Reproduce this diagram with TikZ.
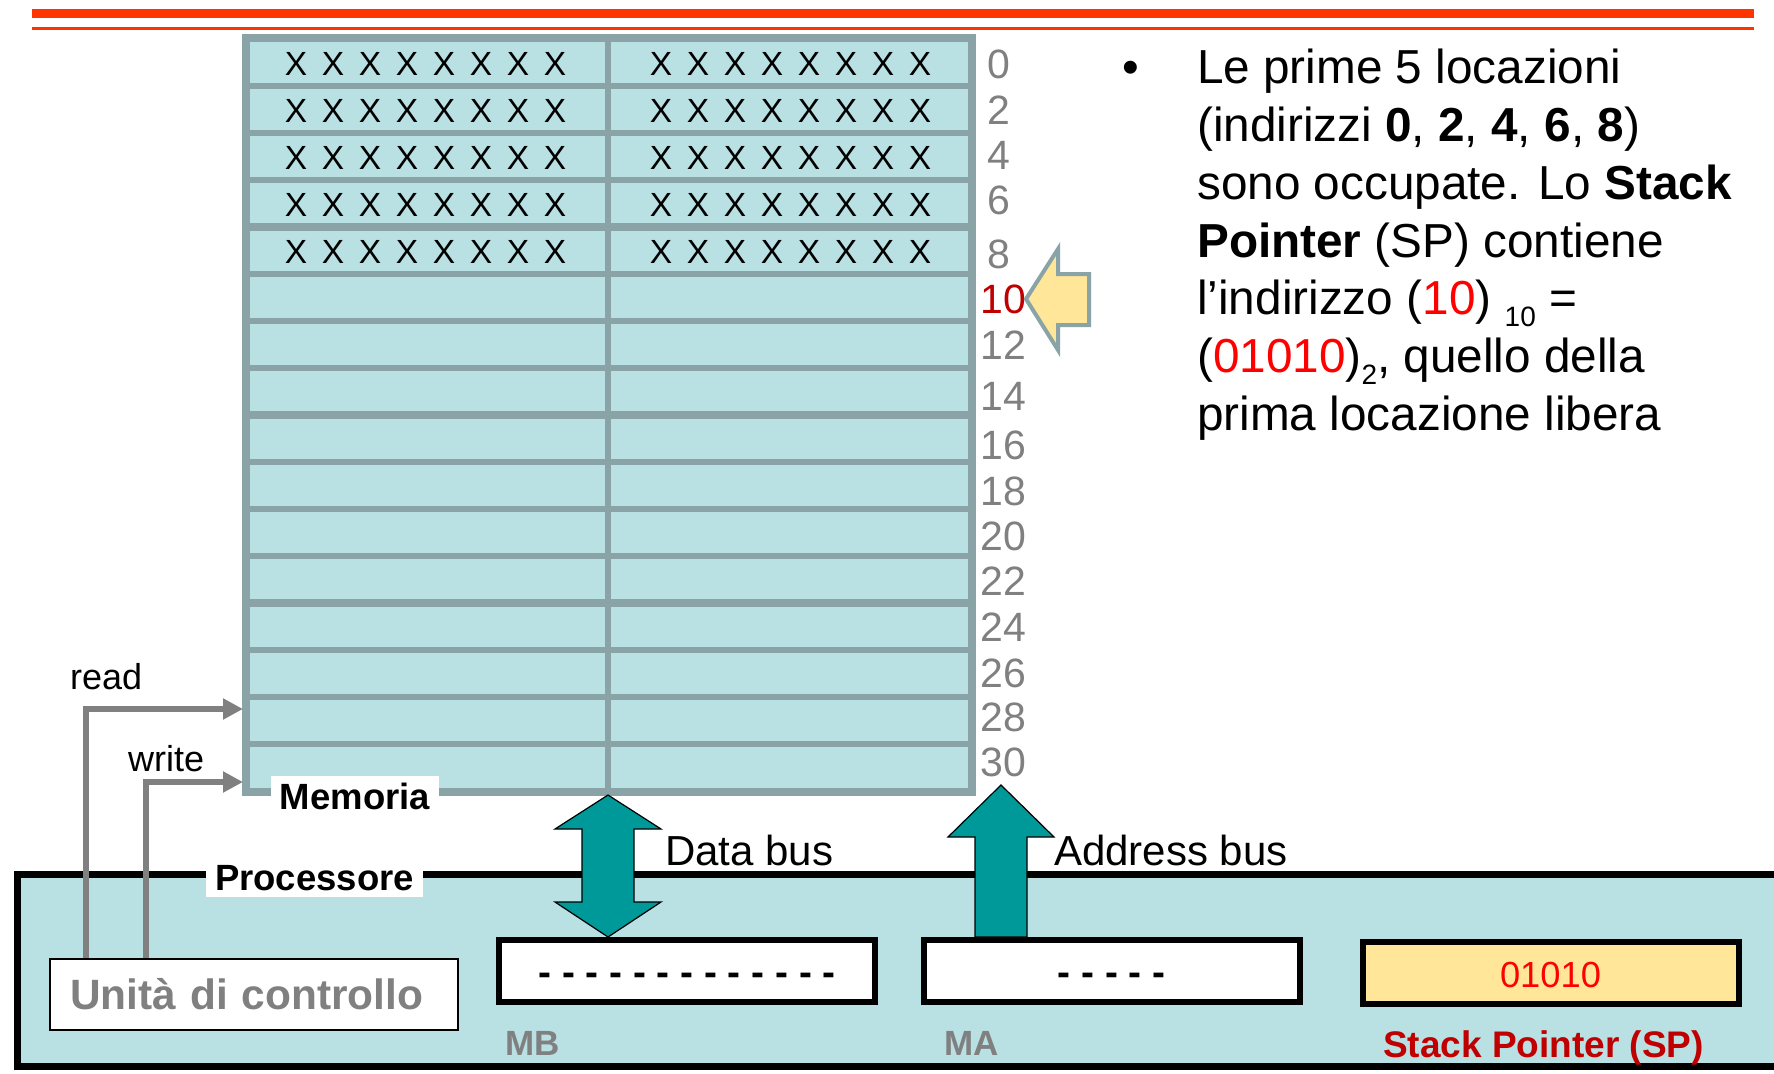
\documentclass[tikz,border=0pt]{standalone}
\usepackage{fontspec}
\setmainfont{Liberation Sans}
\usetikzlibrary{arrows.meta,calc}

\definecolor{cellblue}{RGB}{185,224,227}
\definecolor{cellgray}{RGB}{137,163,166}
\definecolor{busteal}{RGB}{0,153,153}
\definecolor{spyellow}{RGB}{255,230,153}
\definecolor{darkred}{RGB}{192,0,0}
\definecolor{labelgray}{RGB}{128,128,128}
\definecolor{rulered}{RGB}{255,51,0}

\newcommand{\fsz}[2]{\fontsize{#1}{#2}\selectfont}
\newcommand{\onex}{\makebox[37pt]{X}}
\newcommand{\xrow}{\onex\onex\onex\onex\onex\onex\onex\onex}
% shift content down while keeping the box dimensions used for centring
\newcommand{\lowered}[2]{\raisebox{-#1}[\height][\depth]{#2}}

\begin{document}
\begin{tikzpicture}[x=1pt,y=-1pt,
  cell/.style={draw=cellgray, fill=cellblue, line width=6pt},
  block/.style={draw=cellgray, line width=8pt},
  xs/.style={font=\fsz{33.5}{40}, inner sep=0pt},
  addr/.style={font=\fsz{41}{48}, text=labelgray, anchor=west, inner sep=0pt},
  ctrl/.style={draw=labelgray, line width=6pt, -{Triangle[length=20pt,width=20pt]}},
  tag/.style={fill=white, font=\bfseries\fsz{36.5}{44}, inner sep=0pt},
  reg/.style={draw=black, line width=6pt, fill=white, minimum width=376pt, minimum height=62pt, inner sep=0pt},
  regname/.style={font=\bfseries\fsz{35}{42}, text=labelgray, anchor=west, inner sep=0pt},
  bus/.style={fill=busteal, draw=black, line width=1.2pt, line join=miter},
  body/.style={font=\fsz{47.7}{57.6}, anchor=base west, inner sep=0pt},
  buslabel/.style={font=\fsz{42}{50}, anchor=base west, inner sep=0pt},
  sig/.style={font=\fsz{36}{43}, anchor=base west, inner sep=0pt},
]
\useasboundingbox (0,0) rectangle (1774,1073);
\clip (0,0) rectangle (1774,1073);

% header rules
\fill[rulered] (32,9) rectangle (1754,18);
\fill[rulered] (32,27) rectangle (1754,30.5);

% memory: four blocks of four rows, two bytes per row
\foreach \b in {0,...,3} {
  \foreach \r in {0,...,3} {
    \pgfmathsetmacro{\yt}{38.5+188.25*\b+47.0625*\r}
    \pgfmathsetmacro{\yb}{\yt+47.0625}
    \draw[cell] (245.5,\yt) rectangle (608,\yb);
    \draw[cell] (608,\yt) rectangle (971.5,\yb);
  }
  \pgfmathsetmacro{\bt}{38.5+188.25*\b}
  \pgfmathsetmacro{\bb}{\bt+188.25}
  \draw[block] (245.5,\bt) rectangle (971.5,\bb);
}
\draw[cellgray, line width=6pt] (608,38.5) -- (608,791.5);

% occupied locations
\foreach \yc [count=\i] in {62,109.1,156.1,203.2,250.3} {
  \node[xs] (xl\i) at (425.5,\yc+2) {\xrow};
  \node[xs] (xr\i) at (790.5,\yc+2) {\xrow};
}

% addresses
\foreach \a/\yy in {0/64.5,2/109.7,4/155,6/200.3,8/254.6} {
  \node[addr] (a\a) at (987,\yy) {\a};
}
\node[addr, text=darkred] (a10) at (980,299.8) {10};
\foreach \a/\yy in {12/345,14/396,16/445.8,18/491,20/536.3,22/581.5,24/626.8,26/673.2,28/717.3,30/762.6} {
  \node[addr] (a\a) at (980,\yy) {\a};
}

% stack pointer marker
\coordinate (sp-tip) at (1026,299);
\draw[fill=spyellow, draw=cellgray, line width=4pt, line join=miter]
  (sp-tip) -- ++(32,-50) -- ++(0,25) -- ++(31,0) -- ++(0,51) -- ++(-31,0) -- ++(0,25) -- cycle;

% processor
\draw[line width=7pt, fill=cellblue] (17,874.5) rectangle (1800,1066);
\node[tag, minimum width=217pt, minimum height=37pt] (proc) at (314.5,878.5) {Processore};

% memory caption
\node[tag, minimum width=168pt, minimum height=41pt] (memlabel) at (355,796.5) {Memoria};

% control unit
\node[draw=black, line width=1.5pt, fill=white, minimum width=408pt, minimum height=71pt,
      text width=368pt, inner xsep=20pt, align=left, font=\bfseries\fsz{42.4}{50}, text=labelgray]
      (uc) at (254,994.5) {Unità di controllo};

% registers
\node[reg] (mb) at (687,971) {\lowered{8pt}{\bfseries\fsz{38.8}{46}- - - - - - - - - - - - -}};
\node[reg] (ma) at (1111.5,971) {\lowered{8pt}{\bfseries\fsz{38.8}{46}- - - - -}};
\node[reg, fill=spyellow] (sp) at (1550.5,972.5) {\lowered{2pt}{\fsz{36.3}{44}\textcolor{red}{01010}}};
\node[regname] (mbname) at (505,1043) {MB};
\node[regname] (maname) at (944,1043) {MA};
\node[font=\bfseries\fsz{37}{44}, text=darkred, inner sep=0pt] (spname) at (1543.5,1048) {Stack Pointer (SP)};

% read / write lines
\coordinate (mem-read) at (243,709);
\coordinate (mem-write) at (243,782);
\path ($(uc.north west)+(37,0)$) coordinate (rd-start);
\path ($(uc.north west)+(97,0)$) coordinate (wr-start);
\draw[ctrl] (rd-start) |- (mem-read);
\draw[ctrl] (wr-start) |- (mem-write);
\node[sig] (readlbl) at (70,689) {read};
\node[sig] (writelbl) at (128,771) {write};

% data bus
\coordinate (db-top) at (608,795);
\path (db-top |- mb.north) coordinate (db-bot);
\draw[bus] (db-top) -- ++(53,34) -- ++(-27,0) -- ($(db-bot)+(26,-35)$) -- ++(27,0)
  -- (db-bot) -- ++(-53,-35) -- ++(27,0) -- ($(db-top)+(-26,34)$) -- ++(-27,0) -- cycle;
\node[buslabel] (dblbl) at (665,865) {Data bus};

% address bus
\coordinate (ab-top) at (1001,785);
\path (ab-top |- ma.north) coordinate (ab-bot);
\draw[bus] (ab-top) -- ++(53,52) -- ++(-27,0) -- ($(ab-bot)+(26,0)$) -- ++(-52,0)
  -- ($(ab-top)+(-26,52)$) -- ++(-27,0) -- cycle;
\node[buslabel] (ablbl) at (1054,865) {Address bus};

% explanation
\node[body] (bullet) at (1122,84) {•};
\node[body] (l1) at (1197,84) {Le prime 5 locazioni};
\node[body] (l2) at (1197,141.7) {(indirizzi \textbf{0}, \textbf{2}, \textbf{4}, \textbf{6}, \textbf{8})};
\node[body] (l3) at (1197,199.4) {sono occupate. Lo \textbf{Stack}};
\node[body] (l4) at (1197,257.1) {\textbf{Pointer} (SP) contiene};
\node[body] (l5) at (1197,314.8) {l’indirizzo (\textcolor{red}{10}) \raisebox{-12pt}{\fsz{28}{34}10} =};
\node[body] (l6) at (1197,372.5) {(\textcolor{red}{01010})\raisebox{-12pt}{\fsz{28}{34}2}, quello della};
\node[body] (l7) at (1197,430.2) {prima locazione libera};
\end{tikzpicture}
\end{document}
